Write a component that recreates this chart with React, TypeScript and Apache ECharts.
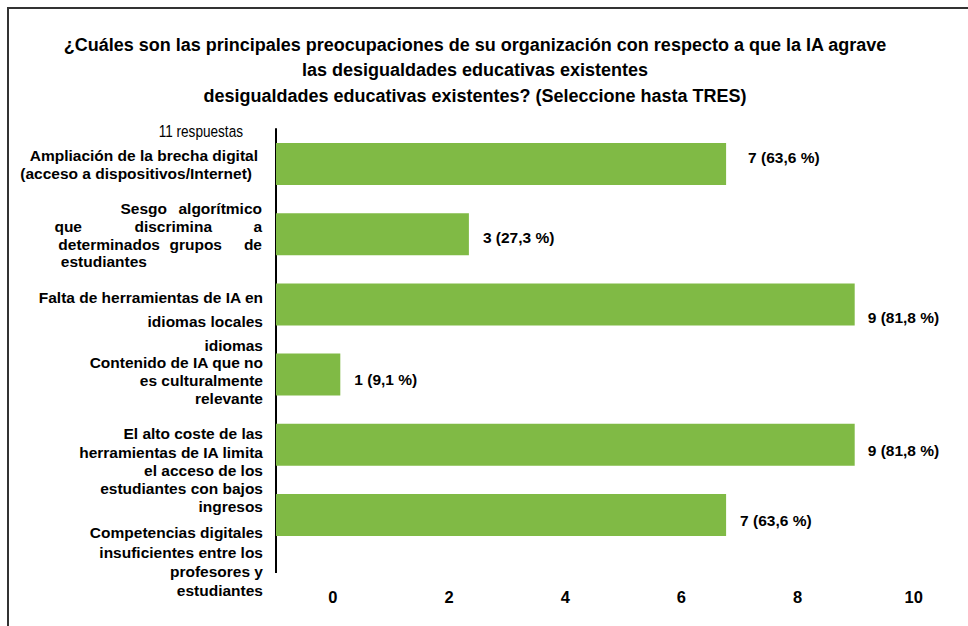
import React, { useEffect, useRef } from "react";
import * as echarts from "echarts";

// ---------- data ----------
const titleLines = [
  "¿Cuáles son las principales preocupaciones de su organización con respecto a que la IA agrave",
  "las desigualdades educativas existentes",
  "desigualdades educativas existentes? (Seleccione hasta TRES)",
];
const responsesNote = "11 respuestas";
const categories = [
  "Ampliación de la brecha digital\n(acceso a dispositivos/Internet)",
  "Sesgo algorítmico\nque discrimina a\ndeterminados grupos de\nestudiantes",
  "Falta de herramientas de IA en\nidiomas locales",
  "idiomas\nContenido de IA que no\nes culturalmente\nrelevante",
  "El alto coste de las\nherramientas de IA limita\nel acceso de los\nestudiantes con bajos\ningresos",
  "Competencias digitales\ninsuficientes entre los\nprofesores y\nestudiantes",
];
const values = [7, 3, 9, 1, 9, 7];
const totalResponses = 11;
const xTickValues = [0, 2, 4, 6, 8, 10];

// ---------- layout / style ----------
const FONT = "'Liberation Sans', Arial, Helvetica, sans-serif";
const GRID = { left: 276, top: 129, width: 643, height: 421 };
const LABEL_RIGHT = 263;
const BAR_COLOR = "#80BA45";
const catLabelLayout: { lineHeight: number; gapTop: number; gapBottom: number; ends: (number | number[])[] }[] = [
  { lineHeight: 18, gapTop: 0, gapBottom: 0, ends: [258, 252] },
  { lineHeight: 17.7, gapTop: 2, gapBottom: 0, ends: [[167, 262], [82, 212, 262], [160, 222, 262], [147]] },
  { lineHeight: 24, gapTop: 11, gapBottom: 0, ends: [263, 263] },
  { lineHeight: 17.7, gapTop: 0, gapBottom: 6, ends: [263, 263, 263, 263] },
  { lineHeight: 18.25, gapTop: 51, gapBottom: 0, ends: [263, 263, 263, 263, 263] },
  { lineHeight: 19.3, gapTop: 94, gapBottom: 0, ends: [263, 263, 263, 263] },
];
const valueLabelOffsets = [
  [22, -7],
  [14, 3],
  [13, 13],
  [14, 5],
  [13, 6],
  [14, 6],
];

function buildCategoryLabels() {
  const rich: Record<string, any> = {};
  const strings = categories.map((cat, ci) => {
    const lay = catLabelLayout[ci];
    const lines = cat.split("\n");
    const base = {
      fontFamily: FONT,
      fontSize: 15.5,
      fontWeight: "bold",
      color: "#000",
      lineHeight: lay.lineHeight,
      align: "right",
    };
    const styleName = (w?: number) => {
      const name = `c${ci}w${w == null ? "n" : Math.round(w * 10)}`;
      if (!rich[name]) rich[name] = w == null ? { ...base } : { ...base, width: w };
      return name;
    };
    const gap = (h: number, key: string) => {
      const name = `g${ci}${key}`;
      rich[name] = { lineHeight: h, fontSize: 1, align: "right" };
      return `{${name}| }`;
    };
    const out: string[] = [];
    if (lay.gapTop > 0) out.push(gap(lay.gapTop, "t"));
    lines.forEach((line, li) => {
      const e = lay.ends[li];
      const ends = Array.isArray(e) ? e : [e];
      const words = Array.isArray(e) ? line.split(" ") : [line];
      let s = "";
      words.forEach((w, wi) => {
        const width = wi === 0 ? undefined : ends[wi] - ends[wi - 1];
        s += `{${styleName(width)}|${w}}`;
      });
      const trail = LABEL_RIGHT - ends[ends.length - 1];
      if (trail > 0.5) s += `{${styleName(trail)}| }`;
      out.push(s);
    });
    if (lay.gapBottom > 0) out.push(gap(lay.gapBottom, "b"));
    return out.join("\n");
  });
  return { rich, strings };
}

export default function App() {
  const ref = useRef<HTMLDivElement>(null);
  useEffect(() => {
    document.body.style.margin = "0";
    document.documentElement.style.overflow = "hidden";
    if (!ref.current) return;
    const chart = echarts.init(ref.current, null, { renderer: "svg" });
    const { rich, strings } = buildCategoryLabels();
    const option: any = {
      animation: false,
      backgroundColor: "#fff",
      grid: { ...GRID, containLabel: false },
      xAxis: [
        { type: "value", min: 0, max: 10, show: false },
        {
          type: "value",
          min: -0.98,
          max: 10.09,
          position: "bottom",
          axisLine: { show: false },
          axisTick: { show: false },
          splitLine: { show: false },
          axisLabel: {
            customValues: xTickValues,
            margin: 38,
            fontFamily: FONT,
            fontSize: 16.5,
            fontWeight: "bold",
            color: "#000",
          },
        },
      ],
      yAxis: {
        type: "category",
        inverse: true,
        data: categories,
        axisLine: { show: true, lineStyle: { color: "#000", width: 2 } },
        axisTick: { show: false },
        splitLine: { show: false },
        axisLabel: {
          interval: 0,
          margin: 13,
          formatter: (_v: string, idx: number) => strings[idx],
          rich,
        },
      },
      series: [
        {
          type: "bar",
          xAxisIndex: 0,
          yAxisIndex: 0,
          barWidth: 42,
          itemStyle: { color: BAR_COLOR },
          data: values.map((v, i) => ({ value: v, label: { offset: valueLabelOffsets[i] } })),
          label: {
            show: true,
            position: "right",
            distance: 0,
            fontFamily: FONT,
            fontSize: 15.5,
            fontWeight: "bold",
            color: "#000",
            formatter: (p: any) =>
              `${p.value} (${((p.value / totalResponses) * 100).toFixed(1).replace(".", ",")} %)`,
          },
        },
      ],
      graphic: [
        {
          type: "polyline",
          shape: { points: [[8, 626], [8, 8], [968, 8]] },
          style: { stroke: "#333", lineWidth: 2, fill: "none" },
          silent: true,
        },
        {
          type: "line",
          shape: { x1: GRID.left, y1: GRID.top + GRID.height, x2: GRID.left, y2: 573 },
          style: { stroke: "#000", lineWidth: 2 },
          silent: true,
        },
        {
          type: "text",
          x: 475,
          y: 32,
          style: {
            text: titleLines.join("\n"),
            fontFamily: FONT,
            fontSize: 18,
            fontWeight: "bold",
            fill: "#000",
            align: "center",
            verticalAlign: "top",
            lineHeight: 25.5,
          },
        },
        {
          type: "text",
          x: 243,
          y: 131,
          scaleX: 0.8,
          style: {
            text: responsesNote,
            fontFamily: FONT,
            fontSize: 17,
            fill: "#000",
            align: "right",
            verticalAlign: "middle",
          },
        },
      ],
    };
    chart.setOption(option);
    return () => chart.dispose();
  }, []);
  return <div ref={ref} style={{ width: 968, height: 626 }} />;
}
